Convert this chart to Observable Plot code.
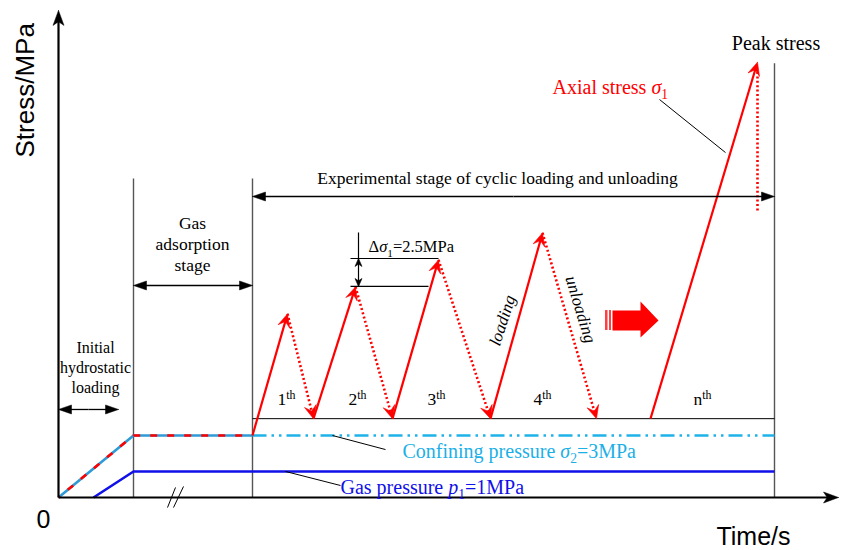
<!DOCTYPE html>
<html>
<head>
<meta charset="utf-8">
<script src="https://cdn.jsdelivr.net/npm/d3@7"></script>
<script src="https://cdn.jsdelivr.net/npm/@observablehq/plot@0.6"></script>
<style>
  body { margin: 0; background: #fff; }
</style>
</head>
<body>
<div id="chart"></div>
<script>
// Schematic units: time on x (arbitrary), stress level on y.
const X_DOMAIN = [0, 78], X_RANGE = [58, 838];
const Y_DOMAIN = [0, 45], Y_RANGE = [497, 11];

// Pressure levels
const confiningLevel = 5.74;
const gasLevel = 2.41;
const cycleBase = 7.3;

// Stage boundaries and their heights
const stageT = [7.5, 19.4, 71.6];
const stageTop = [29.54, 29.54, 40.2];

// Confining pressure ramp (hydrostatic loading + adsorption hold)
const rampT = [0, 7.5, 19.4];
const rampS = [0, 5.74, 5.74];
// Gas pressure path
const gasT = [3.5, 7.5, 71.6];
const gasS = [0, 2.41, 2.41];

// Axial stress: loading branches (start -> peak)
const loadStartT = [19.4, 25.5, 33.4, 43.2, 59.2];
const loadStartS = [5.74, 7.3, 7.3, 7.3, 7.3];
const peakT = [22.9, 29.7, 38.0, 48.4, 69.9];
const peakS = [17.0, 19.5, 22.0, 24.5, 40.3];
// Unloading branches (peak -> valley)
const unloadEndT = [25.5, 33.4, 43.2, 53.8];
const unloadEndS = [7.3, 7.3, 7.3, 7.3];
// Drop after the peak stress
const failT = 69.9, failFrom = 39.4, failTo = 26.4;

// Cycle labels
const cycleLabels = ["1^{th}", "2^{th}", "3^{th}", "4^{th}", "n^{th}"];
const cycleLabelT = [21.9, 29.0, 36.9, 47.5, 63.5];
const cycleLabelS = 8.52;

// Stage dimension arrows: [from, to, level]
const spanFrom = [0, 7.5, 19.4];
const spanTo = [6.0, 19.4, 71.6];
const spanLevel = [8.15, 19.63, 27.87];

// Stress-increment marker
const deltaT = 30.0, deltaTop = 24.54, deltaHi = 22.13, deltaLo = 19.54;
const deltaLineFrom = [29.2, 29.2], deltaLineTo = [38.0, 37.0], deltaLineS = [22.13, 19.54];

// Leader lines [t1, s1, t2, s2]
const leaders = [
  [60.1, 36.85, 66.7, 31.94],
  [27.4, 5.74, 32.7, 4.44],
  [22.7, 2.41, 28.2, 1.11]
];
// Time-break marks
const breaks = [[10.9, -0.93, 11.7, 0.93], [11.5, -0.93, 12.5, 1.02]];

// Block arrow ("and so on")
const blockT = [55.4, 58.2, 58.2, 60.0, 58.2, 58.2, 55.4];
const blockS = [17.31, 17.31, 18.15, 16.39, 14.81, 15.46, 15.46];
const stripeT = [[54.7, 54.95], [55.1, 55.3]];

// Text notes
const noteText = [
  "Peak stress",
  "Axial stress *σ*_{1}",
  "Confining pressure *σ*_{2}=3MPa",
  "Gas pressure *p*_{1}=1MPa",
  "Δ*σ*_{1}=2.5MPa",
  "Experimental stage of cyclic loading and unloading",
  "Gas\nadsorption\nstage",
  "Initial\nhydrostatic\nloading"
];
const noteT = [71.75, 49.4, 34.4, 28.2, 31.0, 43.9, 13.4, 3.7];
const noteS = [41.39, 37.4, 3.7, 0.37, 22.7, 29.07, 20.93, 9.63];
const noteColor = ["#000", "#ff0000", "#1cb0e6", "#1010e8", "#000", "#000", "#000", "#000"];
const noteSize = [20, 20, 20, 20, 16.5, 17.5, 17.5, 16];
const noteAnchor = ["middle", "start", "start", "start", "start", "middle", "middle", "middle"];

const RED = "#ff0000", CYAN = "#1eb2e8", BLUE = "#1010e8";

// pixels per unit, used to shape arrowheads in screen space
const KX = (X_RANGE[1] - X_RANGE[0]) / (X_DOMAIN[1] - X_DOMAIN[0]);
const KY = (Y_RANGE[0] - Y_RANGE[1]) / (Y_DOMAIN[1] - Y_DOMAIN[0]);

function frame(x1, y1, x2, y2) {
  const dx = (x2 - x1) * KX, dy = (y2 - y1) * KY;
  const d = Math.hypot(dx, dy), ux = dx / d, uy = dy / d;
  return (a, b) => [x2 + (a * ux - b * uy) / KX, y2 + (a * uy + b * ux) / KY];
}
// Arrowhead polygon at (x2,y2) pointing away from (x1,y1); len/half in px
function headPts(x1, y1, x2, y2, len, half, notch) {
  const P = frame(x1, y1, x2, y2);
  return [P(0, 0), P(-len, half), P(-len * notch, 0), P(-len, -half), P(0, 0)];
}
// Point set back from the tip by `back` px
function backOff(x1, y1, x2, y2, back) {
  return frame(x1, y1, x2, y2)(-back, 0);
}

let hid = 0;
function heads(list, len, half, notch) {
  return list.flatMap(([x1, y1, x2, y2]) => {
    const id = hid++;
    return headPts(x1, y1, x2, y2, len, half, notch).map(([x, y]) => ({id, x, y}));
  });
}
function shafts(list, back) {
  return list.map(([x1, y1, x2, y2]) => {
    const [ex, ey] = backOff(x1, y1, x2, y2, back);
    return {x1, y1, x2: ex, y2: ey};
  });
}

// Segments
const loadSegs = loadStartT.map((t, i) => [t, loadStartS[i], peakT[i], peakS[i]]);
const unloadSegs = unloadEndT.map((t, i) => [peakT[i], peakS[i], t, unloadEndS[i]]);
const spanSegs = spanFrom.flatMap((f, i) => {
  const m = (f + spanTo[i]) / 2;
  return [[m, spanLevel[i], f, spanLevel[i]], [m, spanLevel[i], spanTo[i], spanLevel[i]]];
});
const axisSegs = [[0, 0, 0, 45.1], [0, 0, 78, 0]];
const deltaSegs = [[deltaT, (deltaHi + deltaLo) / 2, deltaT, deltaHi], [deltaT, (deltaHi + deltaLo) / 2, deltaT, deltaLo]];

const rows = (T, S) => T.map((t, i) => ({t, s: S[i]}));

const marks = [
  // stage boundaries
  Plot.link(stageT, {x1: d => d, x2: d => d, y1: 0, y2: (d, i) => stageTop[i], stroke: "#555", strokeWidth: 1.4}),
  // cycle base line
  Plot.link([cycleBase], {x1: stageT[1], x2: stageT[2], y1: d => d, y2: d => d, stroke: "#000", strokeWidth: 1}),
  // gas pressure
  Plot.line(rows(gasT, gasS), {x: "t", y: "s", stroke: BLUE, strokeWidth: 2.6, strokeLinecap: "butt"}),
  // confining pressure ramp, shared with axial stress
  Plot.line(rows(rampT, rampS), {x: "t", y: "s", stroke: "#2e9ad6", strokeWidth: 2.6, strokeLinecap: "butt"}),
  Plot.line(rows(rampT, rampS), {x: "t", y: "s", stroke: RED, strokeWidth: 2.6, strokeDasharray: "7,10", strokeDashoffset: -12, strokeLinecap: "butt"}),
  // confining pressure during the cycles
  Plot.link([confiningLevel], {x1: stageT[1], x2: stageT[2], y1: d => d, y2: d => d, stroke: CYAN, strokeWidth: 2.6, strokeDasharray: "14,5,2.5,5,2.5,5"}),
  // loading branches
  Plot.link(shafts(loadSegs, 6), {x1: "x1", y1: "y1", x2: "x2", y2: "y2", stroke: RED, strokeWidth: 2.2}),
  // unloading branches
  Plot.link(shafts(unloadSegs, 6), {x1: "x1", y1: "y1", x2: "x2", y2: "y2", stroke: RED, strokeWidth: 2.6, strokeDasharray: "2,2.4"}),
  Plot.link([failT], {x1: d => d, x2: d => d, y1: failFrom, y2: failTo, stroke: RED, strokeWidth: 2.6, strokeDasharray: "2,2.4"}),
  Plot.line(heads([...loadSegs, ...unloadSegs], 13, 6, 0.6), {x: "x", y: "y", z: "id", fill: RED, stroke: RED, strokeWidth: 0.6}),
  // axes
  Plot.link(shafts(axisSegs, 8), {x1: "x1", y1: "y1", x2: "x2", y2: "y2", stroke: "#000", strokeWidth: 2.2}),
  Plot.line(heads(axisSegs, 15, 5.5, 0.75), {x: "x", y: "y", z: "id", fill: "#000", stroke: "#000", strokeWidth: 0.5}),
  // stage dimension arrows
  Plot.link(shafts(spanSegs, 6), {x1: "x1", y1: "y1", x2: "x2", y2: "y2", stroke: "#000", strokeWidth: 1.3}),
  Plot.line(heads(spanSegs, 13, 4.5, 1), {x: "x", y: "y", z: "id", fill: "#000", stroke: "#000", strokeWidth: 0.5}),
  // stress increment marker
  Plot.link([deltaT], {x1: d => d, x2: d => d, y1: deltaTop, y2: deltaLo, stroke: "#000", strokeWidth: 1.2}),
  Plot.link(deltaLineS, {x1: (d, i) => deltaLineFrom[i], x2: (d, i) => deltaLineTo[i], y1: d => d, y2: d => d, stroke: "#000", strokeWidth: 1.2}),
  Plot.line(heads(deltaSegs, 8, 3.5, 0.7), {x: "x", y: "y", z: "id", fill: "#000", stroke: "#000", strokeWidth: 0.6}),
  // leaders
  Plot.link(leaders, {x1: d => d[0], y1: d => d[1], x2: d => d[2], y2: d => d[3], stroke: "#000", strokeWidth: 1}),
  // time break
  Plot.link(breaks, {x1: d => d[0], y1: d => d[1], x2: d => d[2], y2: d => d[3], stroke: "#000", strokeWidth: 1}),
  // block arrow
  Plot.line(rows(blockT, blockS), {x: "t", y: "s", fill: RED, stroke: "none"}),
  Plot.rect(stripeT, {x1: d => d[0], x2: d => d[1], y1: blockS[5], y2: blockS[0], fill: RED, fillOpacity: 0.75}),
  // cycle labels
  Plot.text(cycleLabels, {x: (d, i) => cycleLabelT[i], y: cycleLabelS, text: d => d, textAnchor: "start", lineAnchor: "bottom", fontSize: 17.5, fill: "#000"}),
  // branch names
  Plot.text(["loading"], {x: 44.4, y: 16.39, text: d => d, rotate: -72, fontStyle: "italic", fontSize: 17, fill: "#000"}),
  Plot.text(["unloading"], {x: 52.2, y: 17.41, text: d => d, rotate: 73, fontStyle: "italic", fontSize: 17, fill: "#000"}),
  // axis titles and origin
  Plot.text(["Stress/MPa"], {x: -3.3, y: 37.7, text: d => d, rotate: -90, fontSize: 26, fontFamily: "Liberation Sans", fill: "#000"}),
  Plot.text(["Time/s"], {x: 69.5, y: -4.4, text: d => d, lineAnchor: "bottom", fontSize: 25, fontFamily: "Liberation Sans", fill: "#000"}),
  Plot.text(["0"], {x: -1.5, y: -2.1, text: d => d, fontSize: 25, fontFamily: "Liberation Sans", fill: "#000"}),
  // notes
  ...noteText.map((txt, i) => Plot.text([txt], {
    x: noteT[i], y: noteS[i], text: d => d, fill: noteColor[i], fontSize: noteSize[i],
    textAnchor: noteAnchor[i], lineAnchor: "bottom", lineHeight: i === 7 ? 1.28 : 1.2
  }))
];

const svg = Plot.plot({
  width: 845,
  height: 550,
  x: {domain: X_DOMAIN, range: X_RANGE, axis: null},
  y: {domain: Y_DOMAIN, range: Y_RANGE, axis: null},
  style: {fontFamily: "Liberation Serif", background: "#fff", overflow: "visible"},
  marks
});
document.getElementById("chart").appendChild(svg);

// Inline markup: *italic*, _{subscript}, ^{superscript}
const NS = "http://www.w3.org/2000/svg";
svg.querySelectorAll("text").forEach(t => {
  if (t.children.length) return;
  const src = t.textContent;
  if (!/[*_^]/.test(src)) return;
  const base = parseFloat(getComputedStyle(t).fontSize) || 16;
  t.textContent = "";
  const re = /\*([^*]+)\*|_\{([^}]+)\}|\^\{([^}]+)\}|([^*_^]+)/g;
  let m, shift = 0;
  while ((m = re.exec(src))) {
    const span = document.createElementNS(NS, "tspan");
    let target = 0;
    if (m[1]) { span.textContent = m[1]; span.setAttribute("font-style", "italic"); }
    else if (m[2]) { span.textContent = m[2]; span.setAttribute("font-size", base * 0.68); target = base * 0.28; }
    else if (m[3]) { span.textContent = m[3]; span.setAttribute("font-size", base * 0.68); target = -base * 0.38; }
    else span.textContent = m[4];
    if (target !== shift) { span.setAttribute("dy", target - shift); shift = target; }
    t.appendChild(span);
  }
});
</script>
</body>
</html>
